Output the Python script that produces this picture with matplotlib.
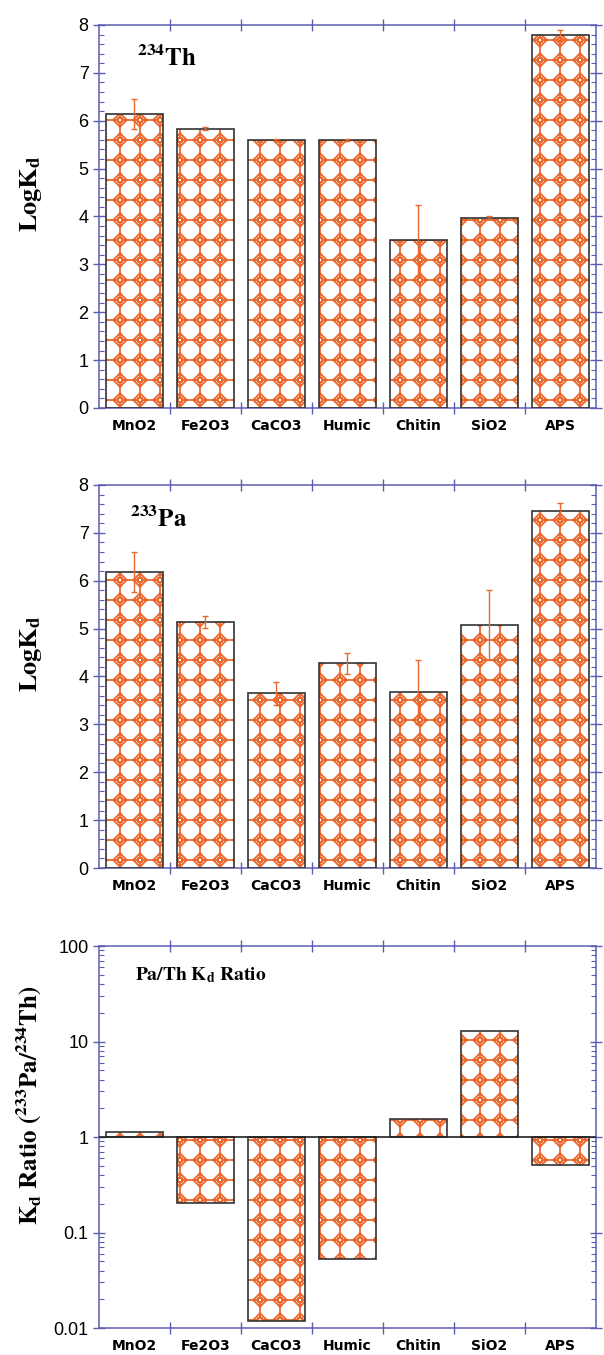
import matplotlib
matplotlib.use('Agg')
import matplotlib.pyplot as plt
import matplotlib.hatch as mhatch
from matplotlib.path import Path
from matplotlib.ticker import MultipleLocator, FixedLocator, LogLocator, FuncFormatter, NullFormatter
import numpy as np

# Datos
categorias = ['MnO2', 'Fe2O3', 'CaCO3', 'Humic', 'Chitin', 'SiO2', 'APS']
logkd_th = [6.14, 5.83, 5.60, 5.59, 3.50, 3.97, 7.79]
err_th = [0.31, 0.03, 0.02, 0.02, 0.74, 0.03, 0.10]
logkd_pa = [6.18, 5.14, 3.65, 4.28, 3.67, 5.07, 7.45]
err_pa = [0.42, 0.12, 0.24, 0.22, 0.67, 0.73, 0.17]
ratio_pa_th = [1.13, 0.204, 0.0118, 0.053, 1.54, 12.9, 0.51]

NARANJA = '#e8682e'
AZUL = '#5c5cb3'


class OctagonLattice(mhatch.HatchPatternBase):
    """Trama de octogonos con anillos chicos en los vertices de la grilla"""
    D = 0.34     # media diagonal del rombo
    R = 0.13     # radio del anillo chico

    def __init__(self, hatch, density):
        self.n = 5 if 'O' in hatch else 0
        self.circle = Path.unit_circle()
        n = self.n
        if n:
            self.num_vertices = (4 * (n + 1) * n            # lados compartidos
                                 + 8 * (n + 1) ** 2         # rombos
                                 + 2 * len(self.circle.vertices) * (n + 1) ** 2)
        else:
            self.num_vertices = 0

    def set_vertices_and_codes(self, vertices, codes):
        n, d, r = self.n, self.D, self.R
        verts, cods = [], []
        for j in range(n + 1):
            for i in range(n):
                verts += [((i + r) / n, j / n), ((i + 1 - r) / n, j / n)]
                verts += [(j / n, (i + r) / n), (j / n, (i + 1 - r) / n)]
                cods += [Path.MOVETO, Path.LINETO] * 2
        for i in range(n + 1):
            for j in range(n + 1):
                pts = [(i + d, j), (i, j + d), (i - d, j), (i, j - d)]
                for a in range(4):
                    p, q = pts[a], pts[(a + 1) % 4]
                    verts += [(p[0] / n, p[1] / n), (q[0] / n, q[1] / n)]
                    cods += [Path.MOVETO, Path.LINETO]
        cv, cc = self.circle.vertices, self.circle.codes
        anillo = np.concatenate([cv, cv[::-1] * 0.9]) * r / n
        for i in range(n + 1):
            for j in range(n + 1):
                verts += list(anillo + (i / n, j / n))
                cods += list(cc) * 2
        vertices[:] = np.asarray(verts)
        codes[:] = np.asarray(cods)


mhatch._hatch_types = [t for t in mhatch._hatch_types if t is not mhatch.LargeCircles] + [OctagonLattice]

plt.rcParams['mathtext.fontset'] = 'stix'
plt.rcParams['font.family'] = ['Liberation Sans', 'DejaVu Sans']
plt.rcParams['hatch.linewidth'] = 1.3
plt.rcParams['hatch.color'] = NARANJA

x = np.arange(len(categorias))
ancho = 0.8

fig = plt.figure(figsize=(6.04, 13.55), dpi=100)
ax1 = fig.add_axes([0.1639, 0.6989, 0.8228, 0.2827])
ax2 = fig.add_axes([0.1639, 0.3594, 0.8228, 0.2827])
ax3 = fig.add_axes([0.1639, 0.0199, 0.8228, 0.2819])


def estilo_ejes(ax):
    for s in ax.spines.values():
        s.set_color(AZUL)
        s.set_linewidth(1.1)
    ax.set_xlim(-0.5, len(categorias) - 0.5)
    ax.xaxis.set_major_locator(FixedLocator(x[:-1] + 0.5))
    ax.xaxis.set_major_formatter(NullFormatter())
    ax.xaxis.set_minor_locator(FixedLocator(x))
    ax.set_xticklabels(categorias, minor=True)
    ax.tick_params(axis='x', which='major', direction='inout', length=9, width=1,
                   color=AZUL, top=True, bottom=True)
    ax.tick_params(axis='x', which='minor', length=0, pad=8, labelsize=10)
    for lab in ax.get_xticklabels(minor=True):
        lab.set_fontweight('bold')
        lab.set_family('DejaVu Sans')
    ax.tick_params(axis='y', which='major', direction='inout', length=9, width=1,
                   color=AZUL, left=True, right=True, labelsize=13, pad=3)
    ax.tick_params(axis='y', which='minor', direction='in', length=3.5, width=0.8,
                   color=AZUL, left=True, right=True)


def barras(ax, valores, errores=None, base=0):
    alturas = [v - base for v in valores]
    ax.bar(x, alturas, ancho, bottom=base, color='white', edgecolor=NARANJA,
           linewidth=0, hatch='O', zorder=2)
    ax.bar(x, alturas, ancho, bottom=base, fill=False, edgecolor='#333333',
           linewidth=1.2, zorder=3)
    if errores is not None:
        ax.errorbar(x, valores, yerr=errores, fmt='none', ecolor=NARANJA,
                    elinewidth=1, capsize=2.5, capthick=1, zorder=4)


# Panel 1: 234Th
barras(ax1, logkd_th, err_th)
ax1.set_ylim(0, 8)
ax1.yaxis.set_major_locator(MultipleLocator(1))
ax1.yaxis.set_minor_locator(MultipleLocator(0.2))
estilo_ejes(ax1)
ax1.text(0.076, 0.893, r'$\mathbf{^{234}Th}$', transform=ax1.transAxes,
         fontsize=18, va='baseline', ha='left')
ax1.set_ylabel(r'$\mathbf{LogK_d}$', fontsize=19)
ax1.yaxis.set_label_coords(-0.11, 0.56)

# Panel 2: 233Pa
barras(ax2, logkd_pa, err_pa)
ax2.set_ylim(0, 8)
ax2.yaxis.set_major_locator(MultipleLocator(1))
ax2.yaxis.set_minor_locator(MultipleLocator(0.2))
estilo_ejes(ax2)
ax2.text(0.062, 0.89, r'$\mathbf{^{233}Pa}$', transform=ax2.transAxes,
         fontsize=18, va='baseline', ha='left')
ax2.set_ylabel(r'$\mathbf{LogK_d}$', fontsize=19)
ax2.yaxis.set_label_coords(-0.11, 0.56)

# Panel 3: razon Pa/Th
ax3.set_yscale('log')
barras(ax3, ratio_pa_th, base=1)
ax3.axhline(1, color='#222222', linewidth=1.2, zorder=3)
ax3.set_ylim(0.01, 100)
ax3.yaxis.set_major_locator(LogLocator(base=10, numticks=10))
ax3.yaxis.set_minor_locator(LogLocator(base=10, subs=np.arange(2, 10), numticks=10))
ax3.yaxis.set_major_formatter(FuncFormatter(lambda v, p: f'{v:g}'))
ax3.yaxis.set_minor_formatter(NullFormatter())
estilo_ejes(ax3)
ax3.text(0.072, 0.911, r'$\mathbf{Pa/Th\ K_d\ Ratio}$', transform=ax3.transAxes,
         fontsize=14, va='baseline', ha='left')
ax3.set_ylabel(r'$\mathbf{K_d\ Ratio\ (^{233}Pa/^{234}Th)}$', fontsize=18)
ax3.yaxis.set_label_coords(-0.11, 0.584)

fig.savefig('out.png', dpi=100)
plt.close(fig)
